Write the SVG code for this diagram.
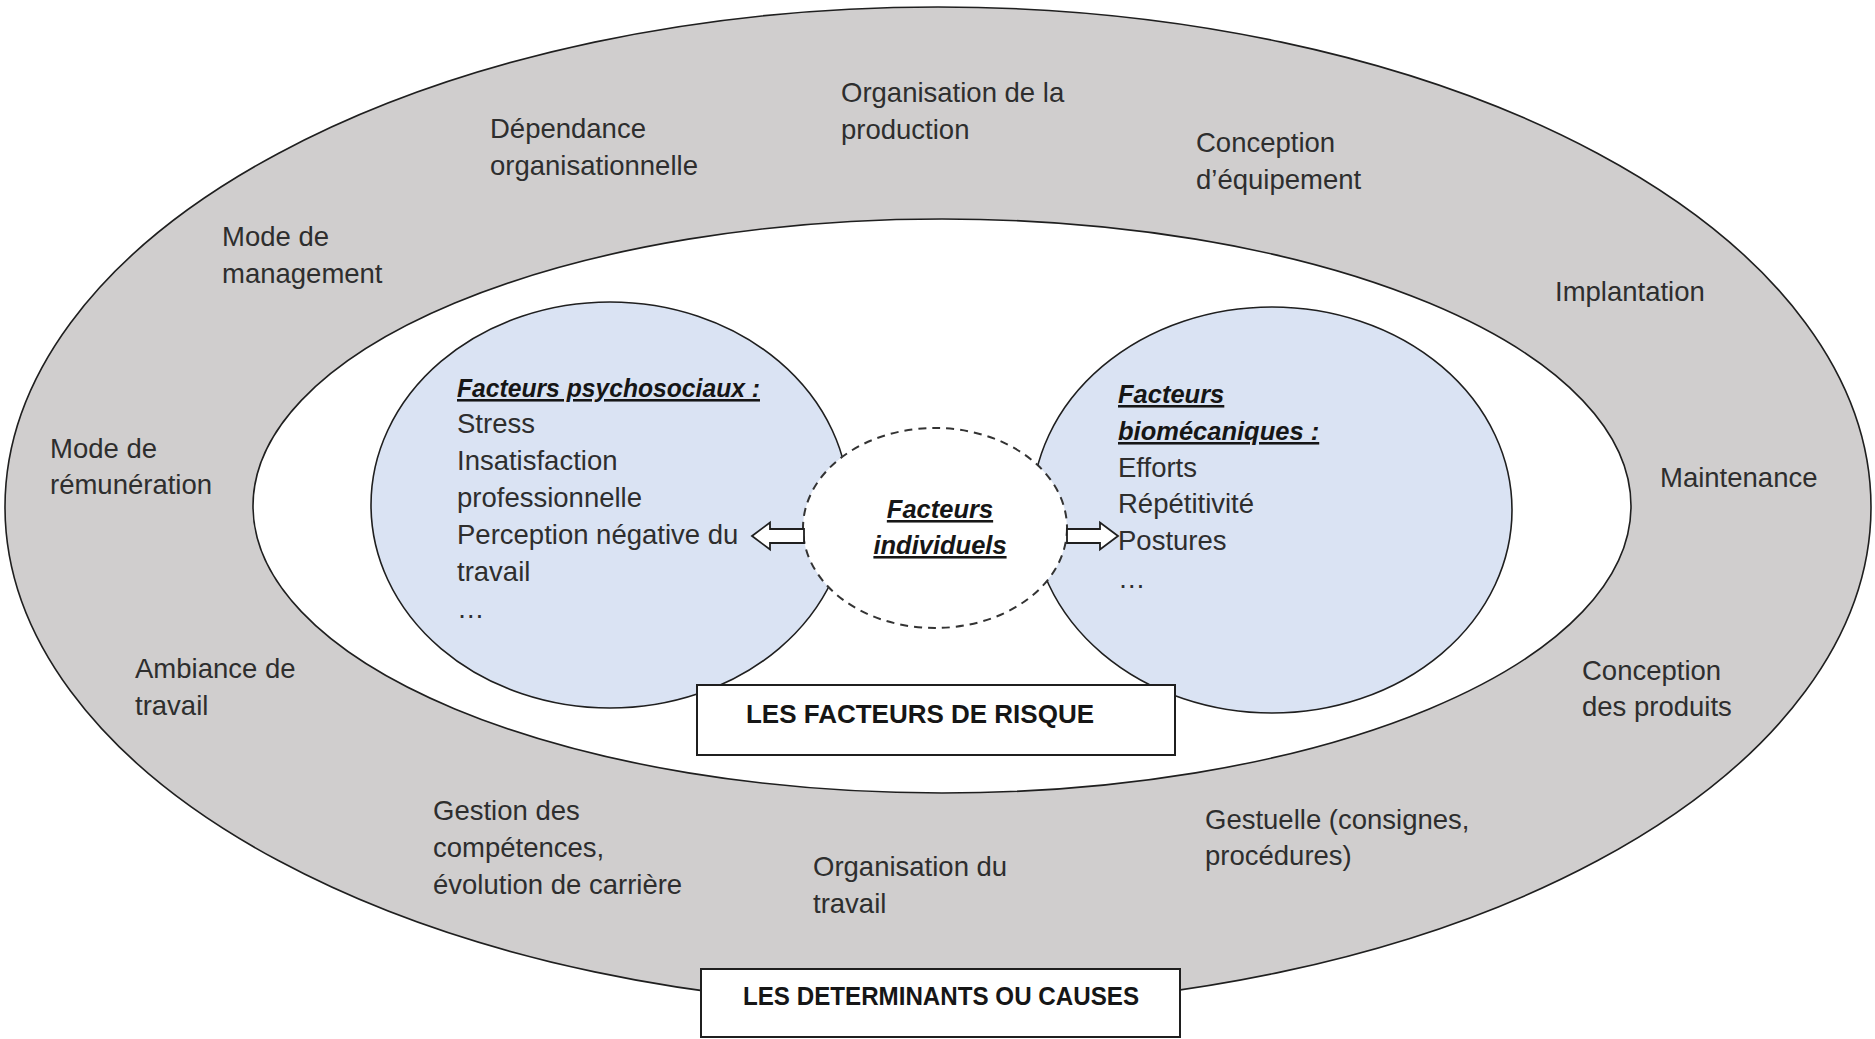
<svg xmlns="http://www.w3.org/2000/svg" width="1875" height="1039" viewBox="0 0 1875 1039">
  <style>
    .ring { fill: #d0cece; stroke: #1f1f1f; stroke-width: 1.6; }
    .inner { fill: #ffffff; stroke: #1f1f1f; stroke-width: 1.6; }
    .blue { fill: #dae3f3; stroke: #1f1f1f; stroke-width: 1.6; }
    .dash { fill: #ffffff; stroke: #333333; stroke-width: 2; stroke-dasharray: 8 6; }
    .box { fill: #ffffff; stroke: #1f1f1f; stroke-width: 2; }
    .arrow { fill: #ffffff; stroke: #1f1f1f; stroke-width: 1.8; stroke-linejoin: miter; }
    text { font-family: "Liberation Sans", Arial, sans-serif; fill: #2e2e2e; }
    .lbl { font-size: 27.5px; }
    .head { font-size: 25.5px; font-weight: bold; font-style: italic; text-decoration: underline; fill: #161616; }
    .cap { font-size: 25.5px; font-weight: bold; fill: #161616; }
  </style>

  <!-- outer ring: determinants / causes -->
  <g id="determinants">
    <ellipse class="ring" cx="938" cy="507" rx="933" ry="500"/>
    <text class="lbl" x="841" y="102">Organisation de la</text>
    <text class="lbl" x="841" y="139">production</text>
    <text class="lbl" x="490" y="138">Dépendance</text>
    <text class="lbl" x="490" y="175">organisationnelle</text>
    <text class="lbl" x="1196" y="152">Conception</text>
    <text class="lbl" x="1196" y="189">d’équipement</text>
    <text class="lbl" x="222" y="246">Mode de</text>
    <text class="lbl" x="222" y="283">management</text>
    <text class="lbl" x="1555" y="301">Implantation</text>
    <text class="lbl" x="50" y="458">Mode de</text>
    <text class="lbl" x="50" y="494">rémunération</text>
    <text class="lbl" x="1660" y="487">Maintenance</text>
    <text class="lbl" x="135" y="678">Ambiance de</text>
    <text class="lbl" x="135" y="715">travail</text>
    <text class="lbl" x="1582" y="680">Conception</text>
    <text class="lbl" x="1582" y="716">des produits</text>
    <text class="lbl" x="433" y="820">Gestion des</text>
    <text class="lbl" x="433" y="857">compétences,</text>
    <text class="lbl" x="433" y="894">évolution de carrière</text>
    <text class="lbl" x="813" y="876">Organisation du</text>
    <text class="lbl" x="813" y="913">travail</text>
    <text class="lbl" x="1205" y="829">Gestuelle (consignes,</text>
    <text class="lbl" x="1205" y="865">procédures)</text>
  </g>

  <!-- inner area: risk factors -->
  <g id="facteurs-risque">
    <ellipse class="inner" cx="942" cy="506" rx="689" ry="287"/>
  </g>

  <g id="psychosociaux">
    <ellipse class="blue" cx="610" cy="505" rx="239" ry="203"/>
    <text class="head" x="457" y="397" textLength="303" lengthAdjust="spacingAndGlyphs">Facteurs psychosociaux :</text>
    <text class="lbl" x="457" y="433">Stress</text>
    <text class="lbl" x="457" y="470">Insatisfaction</text>
    <text class="lbl" x="457" y="507">professionnelle</text>
    <text class="lbl" x="457" y="544">Perception négative du</text>
    <text class="lbl" x="457" y="581">travail</text>
    <text class="lbl" x="457" y="618">…</text>
  </g>

  <g id="biomecaniques">
    <ellipse class="blue" cx="1272" cy="510" rx="240" ry="203"/>
    <text class="head" x="1118" y="403">Facteurs</text>
    <text class="head" x="1118" y="440">biomécaniques :</text>
    <text class="lbl" x="1118" y="477">Efforts</text>
    <text class="lbl" x="1118" y="513">Répétitivité</text>
    <text class="lbl" x="1118" y="550">Postures</text>
    <text class="lbl" x="1118" y="588">…</text>
  </g>

  <g id="individuels">
    <ellipse class="dash" cx="935" cy="528" rx="132" ry="100"/>
    <text class="head" x="940" y="518" text-anchor="middle">Facteurs</text>
    <text class="head" x="940" y="554" text-anchor="middle">individuels</text>
  </g>

  <!-- block arrows from individual factors -->
  <g id="connectors">
    <path class="arrow" d="M752 536 L770 522.5 L770 529 L804 529 L804 543 L770 543 L770 549.5 Z"/>
    <path class="arrow" d="M1118 536 L1100 522.5 L1100 529 L1067 529 L1067 543 L1100 543 L1100 549.5 Z"/>
  </g>

  <g id="label-risque">
    <rect class="box" x="697" y="685" width="478" height="70"/>
    <text class="cap" x="746" y="723" textLength="348" lengthAdjust="spacingAndGlyphs">LES FACTEURS DE RISQUE</text>
  </g>

  <g id="label-causes">
    <rect class="box" x="701" y="969" width="479" height="68"/>
    <text class="cap" x="743" y="1005" textLength="396" lengthAdjust="spacingAndGlyphs">LES DETERMINANTS OU CAUSES</text>
  </g>
</svg>
